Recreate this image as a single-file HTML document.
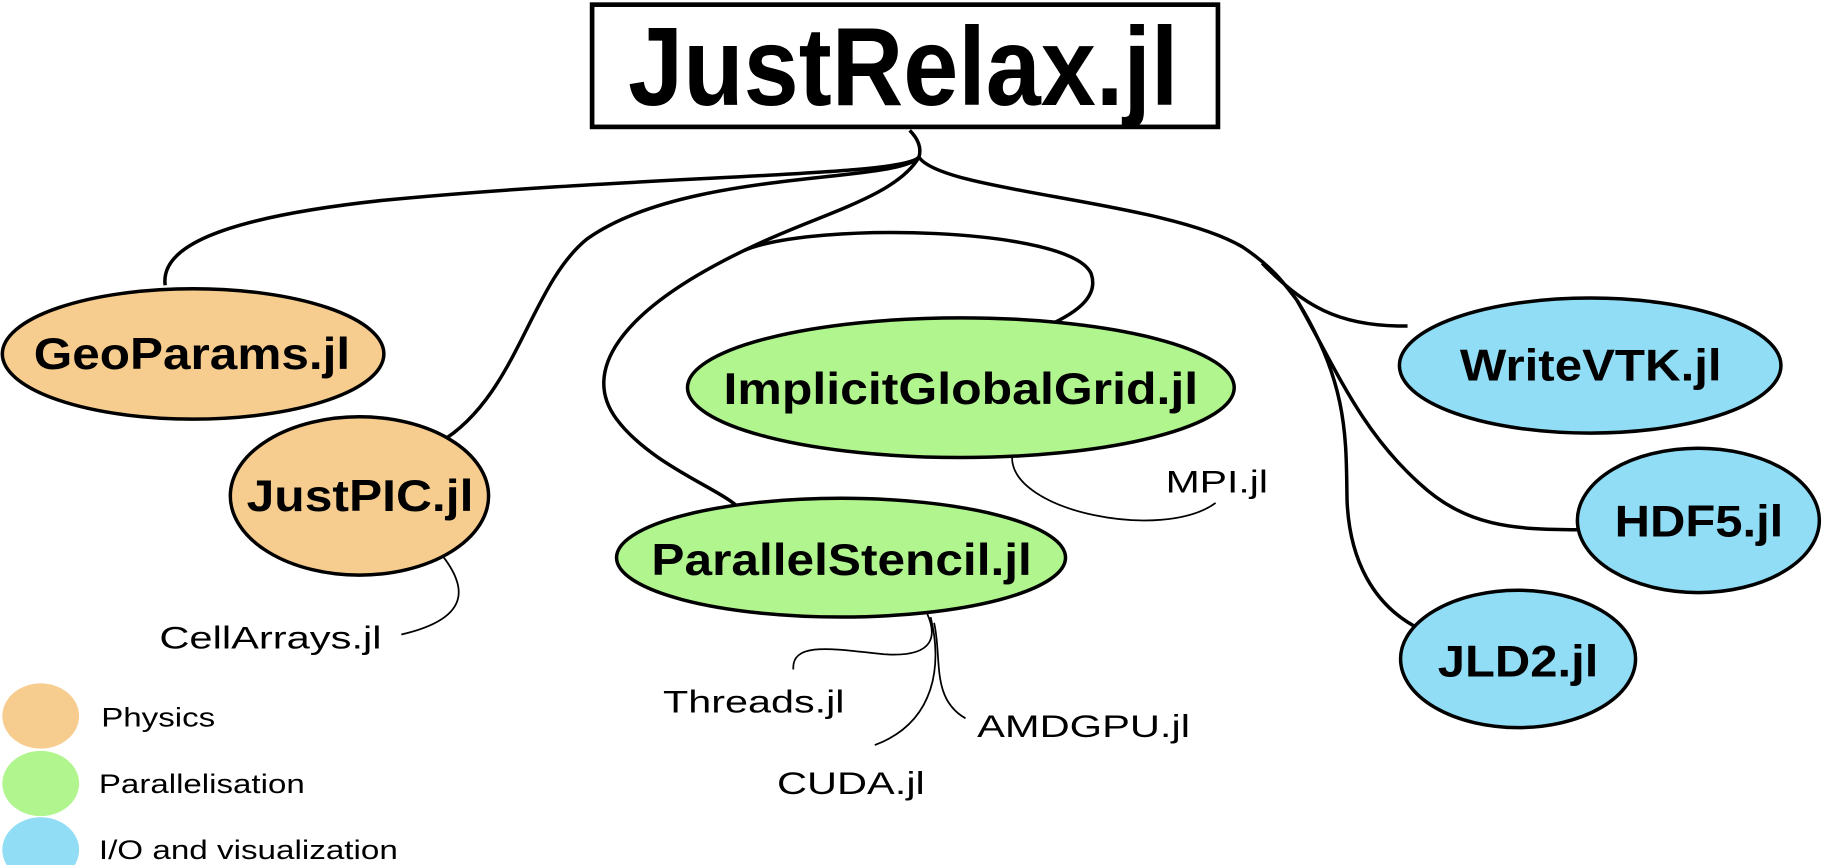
<!DOCTYPE html>
<html><head><meta charset="utf-8"><style>
html,body{margin:0;padding:0;background:#fff;}
svg{display:block;}
text{font-family:"Liberation Sans",Arial,sans-serif;}
.b{font-weight:bold;font-size:38px;}
.t{font-size:27px;}
.l{font-size:23px;}
</style></head><body>
<svg width="1824" height="865" viewBox="0 0 1568 743" preserveAspectRatio="none" xmlns="http://www.w3.org/2000/svg">
<g fill="none" stroke="#000" stroke-width="3">
<path d="M782,112 C790,120 792,128 790,135"/>
<path d="M790,135 C775,152 560,150 330,172 C180,188 138,215 142,245"/>
<path d="M790,135 C770,158 590,145 505,205 C455,245 445,340 378,380"/>
<path d="M790,135 C770,170 700,185 640,215 C530,268 500,320 530,360 C560,400 620,420 636,437"/>
<path d="M640,215 C700,190 920,195 938,235 C945,255 925,270 893,283"/>
<path d="M790,135 C810,165 1000,172 1068,212 C1095,230 1105,245 1115,258"/>
<path d="M1085,226 C1120,262 1150,281 1210,280"/>
<path d="M1115,258 C1150,320 1170,370 1220,415 C1260,452 1300,455 1357,455"/>
<path d="M1115,258 C1160,330 1157,380 1158,430 C1160,480 1180,520 1220,540"/>
</g>
<g fill="none" stroke="#000" stroke-width="1.5">
<path d="M376,472 C400,500 410,530 345,545"/>
<path d="M870,393 C870,440 1000,465 1045,432"/>
<path d="M797,527 C805,545 805,565 760,562 C720,558 680,550 682,575"/>
<path d="M800,530 C810,570 805,620 752,640"/>
<path d="M803,535 C810,565 800,600 830,617"/>
</g>
<rect x="509" y="4" width="538" height="105" fill="#fff" stroke="#000" stroke-width="4"/>
<text x="540" y="90" font-size="96" font-weight="bold" textLength="473" lengthAdjust="spacingAndGlyphs">JustRelax.jl</text>
<g stroke="#000" stroke-width="3">
<ellipse cx="166" cy="304" rx="164" ry="56" fill="#F6CD8F"/>
<ellipse cx="309" cy="426" rx="111" ry="68" fill="#F6CD8F"/>
<ellipse cx="826" cy="333" rx="235" ry="60" fill="#B1F58E"/>
<ellipse cx="723" cy="479" rx="193" ry="51" fill="#B1F58E"/>
<ellipse cx="1367" cy="314" rx="164" ry="58" fill="#90DDF5"/>
<ellipse cx="1460" cy="447" rx="104" ry="62" fill="#90DDF5"/>
<ellipse cx="1305" cy="566" rx="101" ry="59" fill="#90DDF5"/>
</g>
<text class="b" x="29" y="317" textLength="272" lengthAdjust="spacingAndGlyphs">GeoParams.jl</text>
<text class="b" x="212" y="439" textLength="195" lengthAdjust="spacingAndGlyphs">JustPIC.jl</text>
<text class="b" x="622" y="347" textLength="408" lengthAdjust="spacingAndGlyphs">ImplicitGlobalGrid.jl</text>
<text class="b" x="560" y="494" textLength="327" lengthAdjust="spacingAndGlyphs">ParallelStencil.jl</text>
<text class="b" x="1255" y="327" textLength="225" lengthAdjust="spacingAndGlyphs">WriteVTK.jl</text>
<text class="b" x="1388" y="461" textLength="145" lengthAdjust="spacingAndGlyphs">HDF5.jl</text>
<text class="b" x="1236" y="581" textLength="138" lengthAdjust="spacingAndGlyphs">JLD2.jl</text>
<text class="t" x="137" y="557" textLength="191" lengthAdjust="spacingAndGlyphs">CellArrays.jl</text>
<text class="t" x="1002" y="423" textLength="88" lengthAdjust="spacingAndGlyphs">MPI.jl</text>
<text class="t" x="570" y="612" textLength="156" lengthAdjust="spacingAndGlyphs">Threads.jl</text>
<text class="t" x="668" y="682" textLength="127" lengthAdjust="spacingAndGlyphs">CUDA.jl</text>
<text class="t" x="840" y="633" textLength="183" lengthAdjust="spacingAndGlyphs">AMDGPU.jl</text>
<ellipse cx="35" cy="615" rx="33" ry="28" fill="#F6CD8F"/>
<ellipse cx="35" cy="673" rx="33" ry="28" fill="#B1F58E"/>
<ellipse cx="35" cy="730" rx="33" ry="28" fill="#90DDF5"/>
<text class="l" x="87" y="624" textLength="98" lengthAdjust="spacingAndGlyphs">Physics</text>
<text class="l" x="85" y="681" textLength="177" lengthAdjust="spacingAndGlyphs">Parallelisation</text>
<text class="l" x="85" y="738" textLength="257" lengthAdjust="spacingAndGlyphs">I/O and visualization</text>
</svg>
</body></html>
